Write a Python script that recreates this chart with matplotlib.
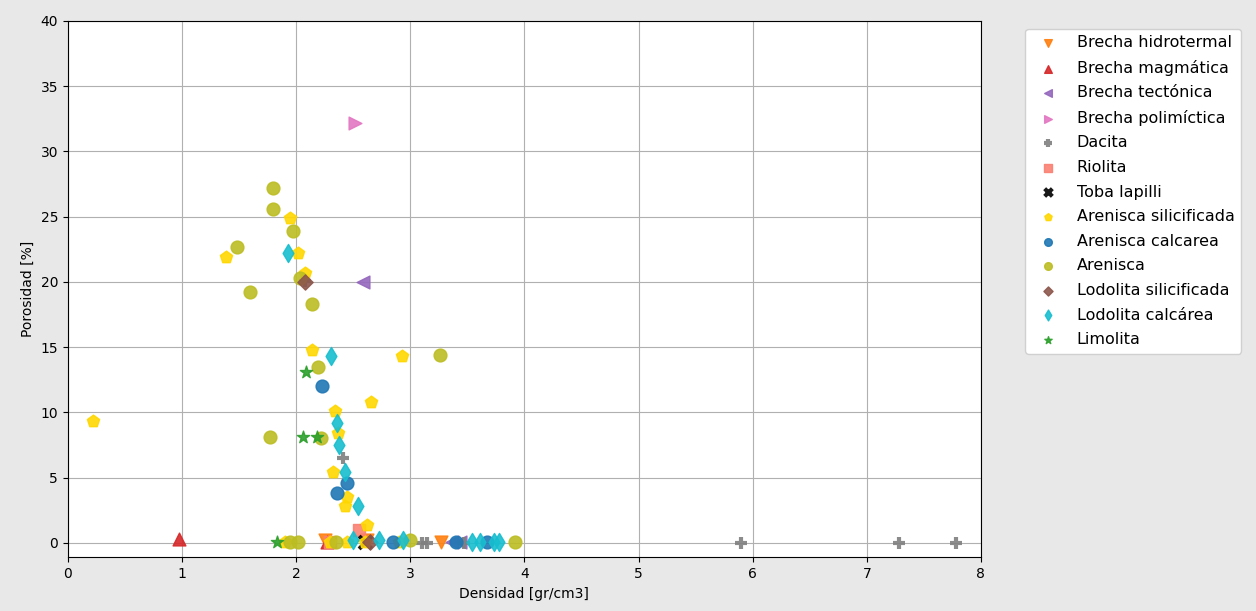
import matplotlib.pyplot as plt
import numpy as np

# Densidad [gr/cm3] vs Porosidad [%] por litologia

bh_x = [2.25, 2.62, 3.27]
bh_y = [0.2, 0.2, 0.1]

bm_x = [0.97, 2.27]
bm_y = [0.3, 0.05]

bt_x = [2.59, 3.37, 3.44]
bt_y = [20.0, 0.1, 0.1]

bp_x = [2.52]
bp_y = [32.2]

dac_x = [2.08, 2.41, 3.10, 3.15, 3.47, 5.90, 7.28, 7.78]
dac_y = [20.1, 6.5, 0.0, 0.0, 0.0, 0.0, 0.0, 0.0]

rio_x = [2.30, 2.55]
rio_y = [0.1, 1.0]

toba_x = [2.60]
toba_y = [0.1]

as_x = [0.22, 1.39, 1.95, 2.02, 2.08, 2.14, 2.34, 2.37, 2.66, 2.93, 2.32,
        2.43, 2.45, 2.62, 1.90, 2.30, 2.45, 2.60, 2.90]
as_y = [9.3, 21.9, 24.9, 22.2, 20.7, 14.8, 10.1, 8.4, 10.8, 14.3, 5.4,
        2.8, 3.5, 1.4, 0.1, 0.1, 0.1, 0.1, 0.1]

ac_x = [2.23, 2.45, 2.36, 2.85, 3.40, 3.67]
ac_y = [12.0, 4.6, 3.8, 0.1, 0.1, 0.1]

ar_x = [1.80, 1.80, 1.97, 1.48, 2.03, 1.60, 2.14, 2.19, 3.26, 1.77, 2.22,
        1.95, 2.02, 2.35, 3.00, 3.92]
ar_y = [27.2, 25.6, 23.9, 22.7, 20.3, 19.2, 18.3, 13.5, 14.4, 8.1, 8.0,
        0.1, 0.1, 0.1, 0.2, 0.1]

ls_x = [2.08, 2.65]
ls_y = [20.0, 0.1]

lc_x = [1.93, 2.31, 2.36, 2.38, 2.43, 2.54, 2.50, 2.73, 2.94, 3.54, 3.61,
        3.73, 3.78]
lc_y = [22.2, 14.3, 9.2, 7.5, 5.4, 2.8, 0.2, 0.2, 0.2, 0.1, 0.1, 0.1, 0.1]

lim_x = [2.09, 2.06, 2.18, 1.83]
lim_y = [13.1, 8.1, 8.1, 0.1]

series = [
    ('Brecha hidrotermal', bh_x, bh_y, 'v', 'tab:orange'),
    ('Brecha magmática', bm_x, bm_y, '^', 'tab:red'),
    ('Brecha tectónica', bt_x, bt_y, '<', 'tab:purple'),
    ('Brecha polimíctica', bp_x, bp_y, '>', 'tab:pink'),
    ('Dacita', dac_x, dac_y, '+', 'tab:gray'),
    ('Riolita', rio_x, rio_y, 's', 'salmon'),
    ('Toba lapilli', toba_x, toba_y, 'x', 'black'),
    ('Arenisca silicificada', as_x, as_y, 'p', 'gold'),
    ('Arenisca calcarea', ac_x, ac_y, 'o', 'tab:blue'),
    ('Arenisca', ar_x, ar_y, 'o', 'tab:olive'),
    ('Lodolita silicificada', ls_x, ls_y, 'D', 'tab:brown'),
    ('Lodolita calcárea', lc_x, lc_y, 'd', 'tab:cyan'),
    ('Limolita', lim_x, lim_y, '*', 'tab:green'),
]

fig = plt.figure(figsize=(12.56, 6.11), dpi=100, facecolor='#e8e8e8')
ax = fig.add_axes([0.054, 0.088, 0.727, 0.878])

for name, xs, ys, m, c in series:
    lw = 3 if m in ('+', 'x') else 1
    size = 60 if m == 'D' else 85
    ax.scatter(xs, ys, marker=m, color=c, s=size, alpha=0.9, linewidths=lw,
               label=name, zorder=3)

ax.set_xlim(0, 8)
ax.set_ylim(-1.1, 40)
ax.set_xticks(np.arange(0, 9, 1))
ax.set_yticks(np.arange(0, 41, 5))
ax.grid(True, color='#b0b0b0')
ax.set_axisbelow(True)
ax.set_xlabel('Densidad [gr/cm3]')
ax.set_ylabel('Porosidad [%]')

ax.legend(loc='upper left', bbox_to_anchor=(1.04, 1), fontsize=11.5,
          labelspacing=0.6, markerscale=0.6, framealpha=1,
          edgecolor='#d0d0d0')

fig.savefig('out.png', dpi=100, facecolor=fig.get_facecolor())
